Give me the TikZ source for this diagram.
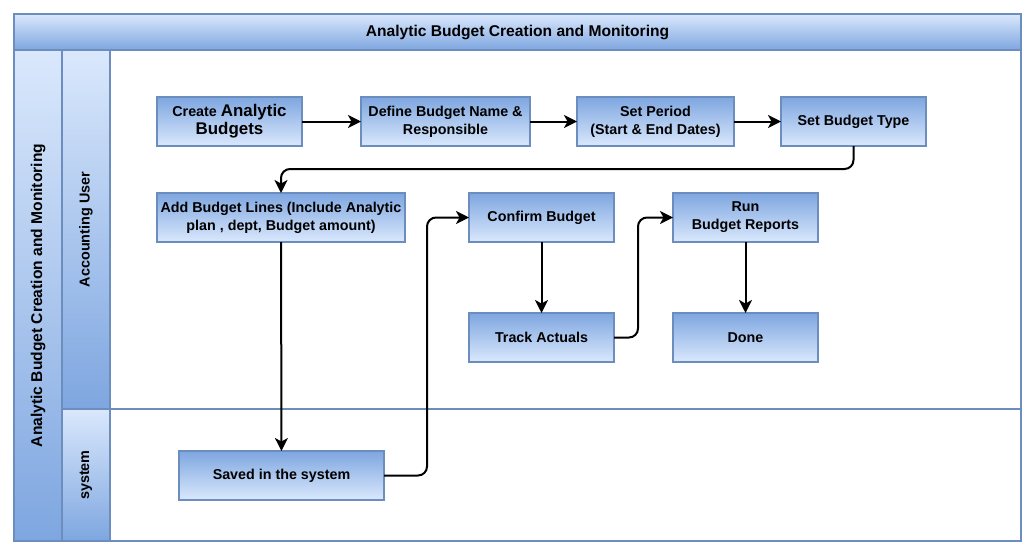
\documentclass[tikz,border=0pt]{standalone}
\usepackage{fontspec}
\setmainfont{Liberation Sans}
\usetikzlibrary{arrows.meta}
\definecolor{lt}{HTML}{DAE8FC}
\definecolor{dk}{HTML}{7EA6E0}
\definecolor{bd}{HTML}{6C8EBF}
\tikzset{
  px/.style={x=1pt,y=-1pt},
  stepbox/.style={draw=bd, line width=2pt, top color=dk, bottom color=lt, inner sep=0pt, outer sep=0pt,
    minimum height=49pt, align=center, font=\bfseries\fontsize{14.3}{18}\selectfont},
  hdr/.style={draw=bd, line width=2pt, top color=lt, bottom color=dk, inner sep=0pt, outer sep=0pt},
  body/.style={draw=bd, line width=2pt, fill=white, inner sep=0pt, outer sep=0pt},
  conn/.style={draw=black, line width=2pt, rounded corners=9pt, -{Stealth[length=13pt,width=13pt,inset=3.5pt]}},
}
\begin{document}
\begin{tikzpicture}[px]
\useasboundingbox (0,0) rectangle (1035,555);
\fill[white] (0,0) rectangle (1035,555);
% pool and lanes
\node[body, minimum width=911pt, minimum height=359pt] (lane1body) at (565.5,229.5) {};
\node[body, minimum width=911pt, minimum height=132pt] (lane2body) at (565.5,475) {};
\node[hdr, minimum width=1007pt, minimum height=36pt, font=\bfseries\fontsize{15.6}{18}\selectfont] (title) at (517.5,32) {Analytic Budget Creation and Monitoring};
\node[hdr, minimum width=48pt, minimum height=491pt] (pool) at (38,295.5) {};
\node[rotate=90, font=\bfseries\fontsize{15.6}{18}\selectfont] (pooltxt) at (38,295.5) {Analytic Budget Creation and Monitoring};
\node[hdr, minimum width=48pt, minimum height=359pt] (lane1) at (86,229.5) {};
\node[rotate=90, font=\bfseries\fontsize{14.4}{17}\selectfont] (lane1txt) at (86,229.5) {Accounting User};
\node[hdr, minimum width=48pt, minimum height=132pt] (lane2) at (86,475) {};
\node[rotate=90, font=\bfseries\fontsize{14.4}{17}\selectfont] (lane2txt) at (86,475) {system};
% steps
\node[stepbox, minimum width=145pt] (c1) at (229.5,121.5) {Create {\fontsize{16.9}{19}\selectfont Analytic}\\{\fontsize{16.9}{19}\selectfont Budgets}};
\node[stepbox, minimum width=169pt] (c2) at (445.5,121.5) {Define Budget Name \&\\Responsible};
\node[stepbox, minimum width=157pt] (c3) at (655.5,121.5) {Set Period\\(Start \& End Dates)};
\node[stepbox, minimum width=145pt] (c4) at (853.5,121.5) {Set Budget Type};
\node[stepbox, minimum width=248pt] (c5) at (281,217.5) {Add Budget Lines (Include Analytic\\plan , dept, Budget amount)};
\node[stepbox, minimum width=145pt] (c6) at (541.5,217.5) {Confirm Budget};
\node[stepbox, minimum width=145pt] (c7) at (745.5,217.5) {Run\\Budget Reports};
\node[stepbox, minimum width=145pt] (c8) at (541.5,337.5) {Track Actuals};
\node[stepbox, minimum width=145pt] (c9) at (745.5,337.5) {Done};
\node[stepbox, minimum width=205pt] (c10) at (281.5,475.5) {Saved in the system};
% helper coordinates
\coordinate (y1) at (0,169);
\coordinate (x1) at (427,0);
\coordinate (x2) at (638,0);
% connectors
\draw[conn] (c1) -- (c2);
\draw[conn] (c2) -- (c3);
\draw[conn] (c3) -- (c4);
\draw[conn] (c4.south) -- (c4.south |- y1) -- (c5.north |- y1) -- (c5.north);
\draw[conn] (c5) -- (c10);
\draw[conn] (c10.east) -- (x1 |- c10.east) -- (x1 |- c6.west) -- (c6.west);
\draw[conn] (c6) -- (c8);
\draw[conn] (c8.east) -- (x2 |- c8.east) -- (x2 |- c7.west) -- (c7.west);
\draw[conn] (c7) -- (c9);
\end{tikzpicture}
\end{document}
